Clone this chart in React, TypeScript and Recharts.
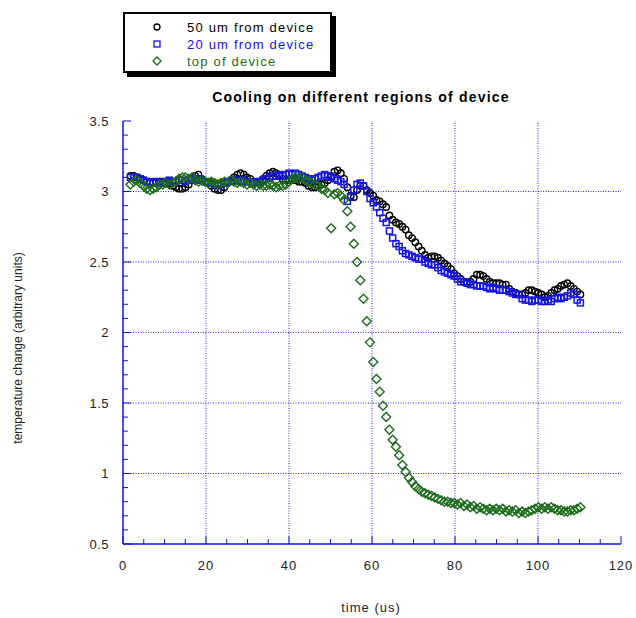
import React from 'react';
import { ScatterChart, Scatter, XAxis, YAxis, ReferenceLine } from 'recharts';

const times = [
  1.8, 2.58, 3.36, 4.14, 4.92, 5.7, 6.48, 7.26, 8.04, 8.82,
  9.6, 10.38, 11.16, 11.94, 12.72, 13.5, 14.28, 15.06, 15.84, 16.62,
  17.4, 18.18, 18.96, 19.74, 20.52, 21.3, 22.08, 22.86, 23.64, 24.42,
  25.2, 25.98, 26.76, 27.54, 28.32, 29.1, 29.88, 30.66, 31.44, 32.22,
  33.0, 33.78, 34.56, 35.34, 36.12, 36.9, 37.68, 38.46, 39.24, 40.02,
  40.8, 41.58, 42.36, 43.14, 43.92, 44.7, 45.48, 46.26, 47.04, 47.82,
  48.6, 49.38, 50.16, 50.94, 51.72, 52.5, 53.28, 54.06, 54.84, 55.62,
  56.4, 57.18, 57.96, 58.74, 59.52, 60.3, 61.08, 61.86, 62.64, 63.42,
  64.2, 64.98, 65.76, 66.54, 67.32, 68.1, 68.88, 69.66, 70.44, 71.22,
  72.0, 72.78, 73.56, 74.34, 75.12, 75.9, 76.68, 77.46, 78.24, 79.02,
  79.8, 80.58, 81.36, 82.14, 82.92, 83.7, 84.48, 85.26, 86.04, 86.82,
  87.6, 88.38, 89.16, 89.94, 90.72, 91.5, 92.28, 93.06, 93.84, 94.62,
  95.4, 96.18, 96.96, 97.74, 98.52, 99.3, 100.08, 100.86, 101.64, 102.42,
  103.2, 103.98, 104.76, 105.54, 106.32, 107.1, 107.88, 108.66, 109.44, 110.22,
];

const black50 = [
  3.11, 3.11, 3.10, 3.09, 3.08, 3.07, 3.06, 3.06, 3.07, 3.07,
  3.06, 3.07, 3.06, 3.04, 3.03, 3.02, 3.02, 3.03, 3.05, 3.08,
  3.11, 3.12, 3.09, 3.07, 3.06, 3.04, 3.02, 3.01, 3.01, 3.03,
  3.06, 3.08, 3.10, 3.12, 3.13, 3.12, 3.10, 3.09, 3.07, 3.06,
  3.07, 3.09, 3.11, 3.13, 3.14, 3.13, 3.11, 3.09, 3.08, 3.08,
  3.09, 3.08, 3.07, 3.07, 3.06, 3.04, 3.03, 3.03, 3.04, 3.05,
  3.06, 3.08, 3.11, 3.14, 3.15, 3.13, 3.09, 3.03, 2.97, 2.96,
  3.01, 3.04, 3.04, 3.01, 2.99, 2.97, 2.94, 2.93, 2.91, 2.89,
  2.83, 2.80, 2.78, 2.77, 2.75, 2.73, 2.69, 2.67, 2.64, 2.61,
  2.58, 2.55, 2.53, 2.54, 2.54, 2.53, 2.51, 2.49, 2.47, 2.45,
  2.42, 2.40, 2.38, 2.36, 2.35, 2.36, 2.38, 2.41, 2.41, 2.40,
  2.38, 2.36, 2.35, 2.35, 2.35, 2.34, 2.34, 2.31, 2.29, 2.28,
  2.27, 2.27, 2.28, 2.30, 2.30, 2.29, 2.28, 2.27, 2.25, 2.26,
  2.28, 2.30, 2.31, 2.33, 2.34, 2.35, 2.33, 2.31, 2.29, 2.27,
];

const blue20 = [
  3.10, 3.10, 3.10, 3.09, 3.08, 3.07, 3.07, 3.06, 3.07, 3.06,
  3.07, 3.07, 3.08, 3.07, 3.07, 3.08, 3.08, 3.07, 3.08, 3.09,
  3.08, 3.09, 3.08, 3.07, 3.07, 3.06, 3.05, 3.04, 3.05, 3.06,
  3.07, 3.07, 3.08, 3.08, 3.07, 3.08, 3.07, 3.07, 3.06, 3.07,
  3.07, 3.08, 3.09, 3.10, 3.11, 3.11, 3.12, 3.11, 3.12, 3.13,
  3.12, 3.13, 3.12, 3.11, 3.10, 3.09, 3.08, 3.09, 3.10, 3.11,
  3.12, 3.11, 3.10, 3.09, 3.08, 3.07, 3.05, 2.93, 2.96, 3.01,
  3.05, 3.06, 3.04, 3.00, 2.95, 2.92, 2.89, 2.85, 2.81, 2.78,
  2.72, 2.67, 2.63, 2.61, 2.58, 2.56, 2.55, 2.54, 2.53, 2.52,
  2.52, 2.50, 2.49, 2.48, 2.48, 2.46, 2.44, 2.43, 2.42, 2.41,
  2.40, 2.38, 2.36, 2.36, 2.35, 2.34, 2.34, 2.33, 2.33, 2.33,
  2.32, 2.31, 2.32, 2.31, 2.30, 2.30, 2.30, 2.29, 2.28, 2.27,
  2.27, 2.24, 2.23, 2.23, 2.22, 2.23, 2.23, 2.22, 2.22, 2.23,
  2.22, 2.24, 2.25, 2.24, 2.25, 2.26, 2.28, 2.27, 2.23, 2.21,
];

const greenTop = [
  3.05, 3.07, 3.08, 3.06, 3.04, 3.02, 3.01, 3.02, 3.03, 3.05,
  3.05, 3.06, 3.05, 3.06, 3.07, 3.09, 3.10, 3.10, 3.09, 3.10,
  3.08, 3.07, 3.08, 3.07, 3.06, 3.07, 3.06, 3.05, 3.06, 3.07,
  3.06, 3.08, 3.07, 3.06, 3.07, 3.06, 3.05, 3.06, 3.05, 3.04,
  3.05, 3.04, 3.04, 3.05, 3.04, 3.03, 3.04, 3.04, 3.05, 3.07,
  3.09, 3.10, 3.09, 3.10, 3.08, 3.07, 3.06, 3.05, 3.04, 3.02,
  3.01, 2.99, 2.74, 2.98, 2.99, 2.97, 2.94, 2.86, 2.75, 2.63,
  2.50, 2.37, 2.24, 2.08, 1.93, 1.79, 1.67, 1.58, 1.48, 1.40,
  1.31, 1.24, 1.19, 1.13, 1.06, 1.01, 0.97, 0.94, 0.91, 0.89,
  0.87, 0.86, 0.85, 0.84, 0.83, 0.82, 0.81, 0.80, 0.80, 0.79,
  0.79, 0.78, 0.79, 0.77, 0.78, 0.76, 0.77, 0.75, 0.76, 0.75,
  0.74, 0.75, 0.74, 0.75, 0.74, 0.75, 0.73, 0.74, 0.73, 0.74,
  0.72, 0.73, 0.72, 0.73, 0.74, 0.75, 0.76, 0.75, 0.76, 0.75,
  0.76, 0.75, 0.74, 0.74, 0.73, 0.73, 0.74, 0.74, 0.75, 0.76,
];

const xTicks = [0, 5, 10, 15, 20, 25, 30, 35, 40, 45, 50, 55, 60, 65, 70, 75, 80, 85, 90, 95, 100, 105, 110, 115, 120];
const yTicks = [0.5, 0.6, 0.7, 0.8, 0.9, 1.0, 1.1, 1.2, 1.3, 1.4, 1.5, 1.6, 1.7, 1.8, 1.9, 2.0, 2.1, 2.2, 2.3, 2.4, 2.5, 2.6, 2.7, 2.8, 2.9, 3.0, 3.1, 3.2, 3.3, 3.4, 3.5];
const xGrid = [20, 40, 60, 80, 100];
const yGrid = [1.0, 1.5, 2.0, 2.5, 3.0];

const seriesNames = ['50 um from device', '20 um from device', 'top of device'];
const title = 'Cooling on different regions of device';
const xLabel = 'time (us)';
const yLabel = 'temperature change (arbitrary units)';

const AX = '#1010e0';
const GRID = '#2a2ae8';
const BLACK = '#000000';
const BLUE = '#1414e6';
const GREEN = '#1d6b1d';
const FONT = '"Liberation Sans", Arial, sans-serif';

const toPts = (vals: number[]) => vals.map((v, i) => ({ x: times[i], y: v }));
const blackData = toPts(black50);
const blueData = toPts(blue20);
const greenData = toPts(greenTop);

const isMajorX = (v: number) => Math.abs(v % 20) < 1e-6;
const isMajorY = (v: number) => Math.abs(v * 2 - Math.round(v * 2)) < 1e-6;
const fmtY = (v: number) => (Math.abs(v - Math.round(v)) < 1e-6 ? String(Math.round(v)) : v.toFixed(1));

const BottomTick = (p: any) => {
  const v = p.payload.value;
  const major = isMajorX(v);
  return (
    <g>
      <line x1={p.x} x2={p.x} y1={p.y} y2={p.y - (major ? 8 : 5)} stroke={AX} strokeWidth={1} />
      {major && (
        <text x={p.x} y={p.y + 26} textAnchor="middle" fontSize={13} fill="#222" fontFamily={FONT} letterSpacing={1}>
          {v}
        </text>
      )}
    </g>
  );
};
const TopTick = (p: any) => {
  const major = isMajorX(p.payload.value);
  return <line x1={p.x} x2={p.x} y1={p.y} y2={p.y + (major ? 8 : 5)} stroke={AX} strokeWidth={1} />;
};
const LeftTick = (p: any) => {
  const v = p.payload.value;
  const major = isMajorY(v);
  return (
    <g>
      <line x1={p.x} x2={p.x + (major ? 8 : 5)} y1={p.y} y2={p.y} stroke={AX} strokeWidth={1} />
      {major && (
        <text x={p.x - 14} y={p.y + 4.5} textAnchor="end" fontSize={13} fill="#222" fontFamily={FONT} letterSpacing={0.5}>
          {fmtY(v)}
        </text>
      )}
    </g>
  );
};
const RightTick = (p: any) => {
  const major = isMajorY(p.payload.value);
  return <line x1={p.x} x2={p.x - (major ? 8 : 5)} y1={p.y} y2={p.y} stroke={AX} strokeWidth={1} />;
};

const CircleShape = (p: any) => <circle cx={p.cx} cy={p.cy} r={3.2} fill="none" stroke={BLACK} strokeWidth={1.4} />;
const SquareShape = (p: any) => (
  <rect x={p.cx - 3} y={p.cy - 3} width={6} height={6} fill="none" stroke={BLUE} strokeWidth={1.5} />
);
const DiamondShape = (p: any) => (
  <path d={`M${p.cx},${p.cy - 4.5} L${p.cx + 4.5},${p.cy} L${p.cx},${p.cy + 4.5} L${p.cx - 4.5},${p.cy} Z`} fill="none" stroke={GREEN} strokeWidth={1.4} />
);

const legendColors = [BLACK, BLUE, GREEN];

export default function App() {
  return (
    <div style={{ position: 'absolute', left: 0, top: 0, width: 636, height: 618, background: '#fff' }}>
      <ScatterChart width={636} height={618} margin={{ top: 121, right: 15, bottom: 0, left: 0 }}>
        <XAxis
          xAxisId={0}
          type="number"
          dataKey="x"
          domain={[0, 120]}
          ticks={xTicks}
          interval={0}
          height={74}
          tickSize={0}
          tickMargin={0}
          tickLine={false}
          tick={BottomTick}
          axisLine={{ stroke: AX, strokeWidth: 1.5 }}
          allowDataOverflow
        />
        <XAxis
          xAxisId="top"
          orientation="top"
          type="number"
          dataKey="x"
          domain={[0, 120]}
          ticks={xTicks}
          interval={0}
          height={0}
          tickSize={0}
          tickMargin={0}
          tickLine={false}
          tick={TopTick}
          axisLine={{ stroke: AX, strokeWidth: 1.5 }}
          allowDataOverflow
        />
        <YAxis
          yAxisId={0}
          type="number"
          dataKey="y"
          domain={[0.5, 3.5]}
          ticks={yTicks}
          interval={0}
          width={123}
          tickSize={0}
          tickMargin={0}
          tickLine={false}
          tick={LeftTick}
          axisLine={{ stroke: AX, strokeWidth: 1.5 }}
          allowDataOverflow
        />
        <YAxis
          yAxisId="right"
          orientation="right"
          type="number"
          dataKey="y"
          domain={[0.5, 3.5]}
          ticks={yTicks}
          interval={0}
          width={0}
          tickSize={0}
          tickMargin={0}
          tickLine={false}
          tick={RightTick}
          axisLine={{ stroke: AX, strokeWidth: 1.5 }}
          allowDataOverflow
        />
        {xGrid.map((g) => (
          <ReferenceLine key={'vx' + g} x={g} xAxisId={0} yAxisId={0} stroke={GRID} strokeWidth={1} strokeDasharray="1 1.5" />
        ))}
        {yGrid.map((g) => (
          <ReferenceLine key={'hy' + g} y={g} xAxisId={0} yAxisId={0} stroke={GRID} strokeWidth={1} strokeDasharray="1 1.5" />
        ))}
        <Scatter name={seriesNames[0]} data={blackData} xAxisId={0} yAxisId={0} shape={CircleShape} isAnimationActive={false} />
        <Scatter name={seriesNames[1]} data={blueData} xAxisId={0} yAxisId={0} shape={SquareShape} isAnimationActive={false} />
        <Scatter name={seriesNames[2]} data={greenData} xAxisId={0} yAxisId={0} shape={DiamondShape} isAnimationActive={false} />
      </ScatterChart>
      <svg width={636} height={618} style={{ position: 'absolute', left: 0, top: 0, pointerEvents: 'none' }}>
        <rect x={127} y={16} width={209} height={61} fill="#000" />
        <rect x={124} y={13} width={207} height={59} fill="#fff" stroke="#000" strokeWidth={2} />
        {seriesNames.map((n, i) => {
          const cy = 27 + i * 17;
          const cx = 157;
          const c = legendColors[i];
          return (
            <g key={n}>
              {i === 0 && <circle cx={cx} cy={cy} r={3} fill="none" stroke={c} strokeWidth={1.3} />}
              {i === 1 && <rect x={cx - 3} y={cy - 3} width={6} height={6} fill="none" stroke={c} strokeWidth={1.3} />}
              {i === 2 && (
                <path d={`M${cx},${cy - 4} L${cx + 4},${cy} L${cx},${cy + 4} L${cx - 4},${cy} Z`} fill="none" stroke={c} strokeWidth={1.3} />
              )}
              <text x={187} y={cy + 5} fontSize={13} fill={c} fontFamily={FONT} letterSpacing={1.2}>
                {n}
              </text>
            </g>
          );
        })}
        <text x={361} y={102} textAnchor="middle" fontSize={14} fontWeight="bold" fill="#000" fontFamily={FONT} letterSpacing={1.2}>
          {title}
        </text>
        <text x={371} y={612} textAnchor="middle" fontSize={13} fill="#222" fontFamily={FONT} letterSpacing={1}>
          {xLabel}
        </text>
        <text
          x={0}
          y={0}
          transform="translate(22,348) rotate(-90)"
          textAnchor="middle"
          fontSize={12}
          fill="#222"
          fontFamily={FONT}
        >
          {yLabel}
        </text>
      </svg>
    </div>
  );
}
